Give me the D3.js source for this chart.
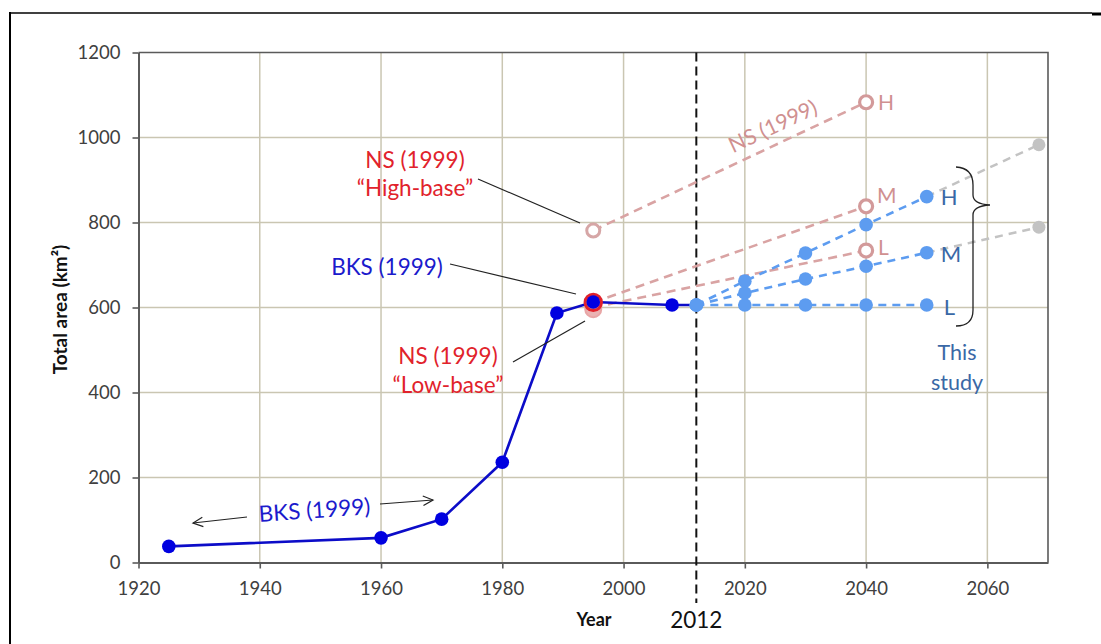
<!DOCTYPE html>
<html>
<head>
<meta charset="utf-8">
<script src="https://cdn.jsdelivr.net/npm/d3@7"></script>
<style>
  html, body { margin: 0; padding: 0; background: #fff; }
  svg { display: block; font-family: Lato, "Noto Sans", sans-serif; }
</style>
</head>
<body>
<svg id="chart" width="1101" height="644"></svg>
<script>
// ---------------- DATA ----------------
const xTicks = [1920, 1940, 1960, 1980, 2000, 2020, 2040, 2060];
const yTicks = [0, 200, 400, 600, 800, 1000, 1200];

// BKS (1999) historical series
const bksYears  = [1925, 1960, 1970, 1980, 1989, 1995, 2008, 2012];
const bksValues = [38, 58, 102, 236, 587, 613, 606, 606];

// NS (1999) base points in 1995
const nsHighBase = 781;
const nsLowBase  = 596;
const nsRedRing  = 612;

// NS (1999) projections to 2040 (H, M, L)
const nsProjYear = 2040;
const nsProjH = 1083, nsProjM = 838, nsProjL = 734;

// This study projections
const studyYears = [2012, 2020, 2030, 2040, 2050];
const studyH = [606, 662, 728, 795, 861];
const studyM = [606, 634, 667, 697, 729];
const studyL = [606, 606, 606, 606, 606];

// Gray extrapolation end points
const extYear = 2068.5;
const extH = 983, extM = 789;

const markerYear = 2012;

// ---------------- SETUP ----------------
const svg = d3.select("#chart");
const x = d3.scaleLinear().domain([1920, 2070]).range([138.5, 1048]);
const y = d3.scaleLinear().domain([0, 1200]).range([562.5, 52.5]);

const gridCol = "#cac6b2";
const axisCol = "#5a5a5a";
const tickTextCol = "#404040";
const pinkLine = "#d9a3a3";
const pinkText = "#d09090";
const lightBlue = "#5d9cf0";
const studyText = "#3a68a6";
const bksCol = "#0c0cc8";
const redCol = "#e1222b";
const grayCol = "#c3c3c3";

// outer frame
svg.append("line").attr("x1", 10).attr("x2", 1092).attr("y1", 13).attr("y2", 13)
  .attr("stroke", "#000").attr("stroke-width", 1.6);
svg.append("line").attr("x1", 1092).attr("x2", 1101).attr("y1", 14).attr("y2", 14)
  .attr("stroke", "#000").attr("stroke-width", 3);
svg.append("line").attr("x1", 10).attr("x2", 10).attr("y1", 12).attr("y2", 644)
  .attr("stroke", "#000").attr("stroke-width", 2);

// grid
const g = svg.append("g");
g.selectAll(".vg").data(xTicks.filter(d => d > 1920)).enter().append("line")
  .attr("x1", d => x(d)).attr("x2", d => x(d)).attr("y1", y(1200)).attr("y2", y(0))
  .attr("stroke", gridCol).attr("stroke-width", 1.5);
g.selectAll(".hg").data(yTicks.filter(d => d > 0 && d < 1200)).enter().append("line")
  .attr("x1", x(1920)).attr("x2", x(2070)).attr("y1", d => y(d)).attr("y2", d => y(d))
  .attr("stroke", gridCol).attr("stroke-width", 1.5);

// plot border top/right
svg.append("path")
  .attr("d", `M${x(1920)},${y(1200)}H${x(2070)}V${y(0)}`)
  .attr("fill", "none").attr("stroke", axisCol).attr("stroke-width", 1.6);

// axes
const yAxis = d3.axisLeft(y).tickValues(yTicks).tickSize(6).tickPadding(12).tickSizeOuter(0).tickFormat(d3.format("d"));
const xAxis = d3.axisBottom(x).tickValues(xTicks).tickSize(6).tickPadding(10).tickSizeOuter(0).tickFormat(d3.format("d"));
const ya = svg.append("g").attr("transform", `translate(${x(1920)},0)`).call(yAxis);
const xa = svg.append("g").attr("transform", `translate(0,${y(0)})`).call(xAxis);
[ya, xa].forEach(a => {
  a.select(".domain").attr("stroke", axisCol).attr("stroke-width", 2);
  a.selectAll(".tick line").attr("stroke", axisCol).attr("stroke-width", 1.6);
  a.selectAll(".tick text").attr("fill", tickTextCol)
    .style("font-size", "18.5px").style("font-family", "Lato, sans-serif");
});
xa.selectAll(".tick text").attr("dy", "0.9em");

// axis titles
svg.append("text").attr("transform", `translate(67,${(y(0)+y(1200))/2 + 2}) rotate(-90)`)
  .attr("text-anchor", "middle").style("font-size", "19px").style("font-weight", "bold")
  .attr("fill", "#111")
  .text("Total area (km²)");
svg.append("text").attr("x", 594).attr("y", 626).attr("text-anchor", "middle")
  .style("font-size", "18px").style("font-weight", "bold").attr("fill", "#111").text("Year");
svg.append("text").attr("x", x(markerYear)).attr("y", 628).attr("text-anchor", "middle")
  .style("font-size", "22.5px").attr("fill", "#111").text(String(markerYear));

// 2012 dashed marker line
svg.append("line").attr("x1", x(markerYear)).attr("x2", x(markerYear))
  .attr("y1", y(1200)).attr("y2", 603)
  .attr("stroke", "#111").attr("stroke-width", 2).attr("stroke-dasharray", "9,5");

const line = d3.line().x(d => x(d[0])).y(d => y(d[1]));

// gray extrapolations
const n = studyYears.length - 1;
[[studyH[n], extH], [studyM[n], extM]].forEach(([v0, v1]) => {
  svg.append("path").attr("d", line([[studyYears[n], v0], [extYear, v1]]))
    .attr("fill", "none").attr("stroke", grayCol).attr("stroke-width", 2.5)
    .attr("stroke-dasharray", "8,6");
});
svg.selectAll(".gdot").data([extH, extM]).enter().append("circle")
  .attr("cx", x(extYear)).attr("cy", d => y(d)).attr("r", 6.5).attr("fill", grayCol);

// NS projection lines
const nsLines = [
  [[1995, nsHighBase], [nsProjYear, nsProjH]],
  [[1995, nsRedRing], [nsProjYear, nsProjM]],
  [[1995, nsLowBase + 4], [nsProjYear, nsProjL]]
];
nsLines.forEach(pts => {
  svg.append("path").attr("d", line(pts)).attr("fill", "none")
    .attr("stroke", pinkLine).attr("stroke-width", 2.6).attr("stroke-dasharray", "9,6");
});

// This study dashed lines
[studyH, studyM, studyL].forEach(vals => {
  svg.append("path").attr("d", line(studyYears.map((yr, i) => [yr, vals[i]])))
    .attr("fill", "none").attr("stroke", lightBlue).attr("stroke-width", 2.6)
    .attr("stroke-dasharray", "8,6");
});

// NS open circles at 2040
svg.selectAll(".nsc").data([nsProjH, nsProjM, nsProjL]).enter().append("circle")
  .attr("cx", x(nsProjYear)).attr("cy", d => y(d)).attr("r", 6.5)
  .attr("fill", "#fff").attr("stroke", "#d39a9a").attr("stroke-width", 3.2);

// NS high base
svg.append("circle").attr("cx", x(1995)).attr("cy", y(nsHighBase)).attr("r", 6.5)
  .attr("fill", "#fff").attr("stroke", "#d6a6a6").attr("stroke-width", 3);

// BKS line
svg.append("path").attr("d", line(bksYears.map((yr, i) => [yr, bksValues[i]])))
  .attr("fill", "none").attr("stroke", bksCol).attr("stroke-width", 2.6);

// NS low base + red ring
svg.append("circle").attr("cx", x(1995)).attr("cy", y(nsLowBase)).attr("r", 8)
  .attr("fill", "#eab3b3").attr("stroke", "#e8a6a6").attr("stroke-width", 2);
svg.append("circle").attr("cx", x(1995)).attr("cy", y(nsRedRing)).attr("r", 8.2)
  .attr("fill", "#e88080").attr("stroke", redCol).attr("stroke-width", 3);

// study points
const studyPts = [];
[studyH, studyM, studyL].forEach(vals => studyYears.forEach((yr, i) => studyPts.push([yr, vals[i]])));
svg.selectAll(".sdot").data(studyPts).enter().append("circle")
  .attr("cx", d => x(d[0])).attr("cy", d => y(d[1])).attr("r", 6.8).attr("fill", lightBlue);

// BKS points (excluding 2012, drawn as study point)
svg.selectAll(".bdot").data(bksYears.slice(0, -1).map((yr, i) => [yr, bksValues[i]])).enter()
  .append("circle").attr("cx", d => x(d[0])).attr("cy", d => y(d[1])).attr("r", 6.8)
  .attr("fill", "#0000e0");

// ---------------- LABELS ----------------
const txt = (xx, yy, s, col, size, anchor = "middle") =>
  svg.append("text").attr("x", xx).attr("y", yy).attr("text-anchor", anchor)
    .attr("fill", col).style("font-size", size + "px").text(s);

// NS 2040 labels
txt(x(nsProjYear) + 12, y(nsProjH) + 8, "H", pinkText, 21, "start");
txt(x(nsProjYear) + 11, y(nsProjM) - 3, "M", pinkText, 21, "start");
txt(x(nsProjYear) + 12, y(nsProjL) + 4, "L", pinkText, 21, "start");

// study labels
txt(x(2050) + 14, y(studyH[n]) + 8, "H", studyText, 22, "start");
txt(x(2050) + 14, y(studyM[n]) + 9, "M", studyText, 22, "start");
txt(x(2050) + 17, y(studyL[n]) + 10, "L", studyText, 22, "start");
txt(957, 360, "This", studyText, 21.5);
txt(957, 390, "study", studyText, 21.5);

// brace
svg.append("path")
  .attr("d", "M956,167 Q973,168 973,185 L973,195 Q973,204 990,205 Q973,206 973,215 L973,310 Q973,326 956,326")
  .attr("fill", "none").attr("stroke", "#222").attr("stroke-width", 1.3);

// rotated NS (1999) along high line
const ang = Math.atan2(y(nsProjH) - y(nsHighBase), x(nsProjYear) - x(1995)) * 180 / Math.PI;
svg.append("text").attr("transform", `translate(776,133) rotate(${ang})`)
  .attr("text-anchor", "middle").attr("fill", pinkText).style("font-size", "21.5px")
  .text("NS (1999)");

// NS High-base annotation
txt(415, 168, "NS (1999)", redCol, 22.5);
txt(415, 196, "\u201CHigh-base\u201D", redCol, 22.5);
svg.append("line").attr("x1", 478).attr("y1", 179).attr("x2", 580).attr("y2", 223)
  .attr("stroke", "#222").attr("stroke-width", 1.2);

// BKS annotation
txt(387, 275, "BKS (1999)", "#1b1bcc", 22.5);
svg.append("line").attr("x1", 450).attr("y1", 264).attr("x2", 576).attr("y2", 294)
  .attr("stroke", "#222").attr("stroke-width", 1.2);

// NS Low-base annotation
txt(448, 364, "NS (1999)", redCol, 22.5);
txt(448, 393, "\u201CLow-base\u201D", redCol, 22.5);
svg.append("line").attr("x1", 513).attr("y1", 362).attr("x2", 585).attr("y2", 321)
  .attr("stroke", "#222").attr("stroke-width", 1.2);

// bottom BKS annotation with arrows
svg.append("text").attr("transform", "translate(315,518) rotate(-4)")
  .attr("text-anchor", "middle").attr("fill", "#1b1bcc").style("font-size", "22.5px")
  .text("BKS (1999)");
const arrow = (x1, y1, x2, y2) => {
  svg.append("line").attr("x1", x1).attr("y1", y1).attr("x2", x2).attr("y2", y2)
    .attr("stroke", "#222").attr("stroke-width", 1.2);
  const a = Math.atan2(y2 - y1, x2 - x1);
  const L = 11, w = 0.45;
  const p = [[x2 - L * Math.cos(a - w), y2 - L * Math.sin(a - w)], [x2, y2],
             [x2 - L * Math.cos(a + w), y2 - L * Math.sin(a + w)]];
  svg.append("path").attr("d", d3.line()(p)).attr("fill", "none")
    .attr("stroke", "#222").attr("stroke-width", 1.2);
};
arrow(247, 517, 193, 523);
arrow(380, 504, 433, 500);
</script>
</body>
</html>
